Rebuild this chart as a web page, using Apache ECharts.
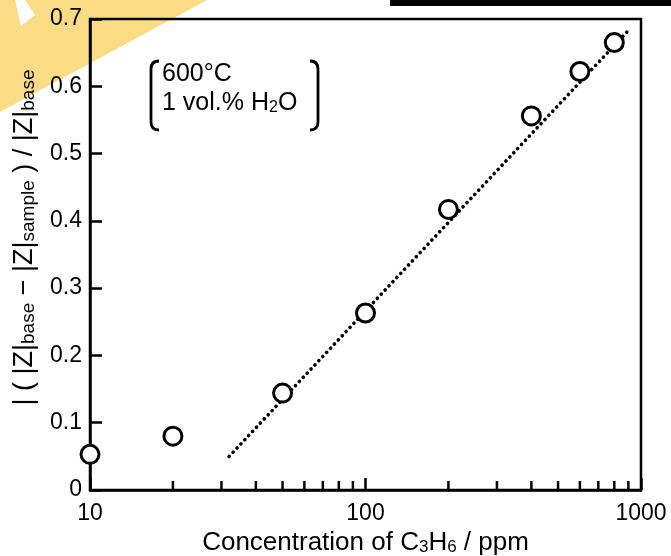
<!DOCTYPE html>
<html>
<head>
<meta charset="utf-8">
<script src="https://cdn.jsdelivr.net/npm/echarts@6/dist/echarts.min.js"></script>
<style>
  html, body { margin: 0; padding: 0; background: #fff; }
  #main { width: 671px; height: 556px; }
</style>
</head>
<body>
<div id="main"></div>
<script>
// measured points
const concPpm = [10, 20, 50, 100, 200, 400, 600, 800];
const response = [0.053, 0.080, 0.144, 0.263, 0.417, 0.556, 0.622, 0.665];

// dotted fit line (end points)
const fitX = [32, 900];
const fitY = [0.050, 0.683];

// minor ticks of the log axis
const minorTicks = [20, 30, 40, 50, 60, 70, 80, 90, 200, 300, 400, 500, 600, 700, 800, 900];

const yTicks = [0, 0.1, 0.2, 0.3, 0.4, 0.5, 0.6, 0.7];

const chart = echarts.init(document.getElementById('main'), null, { renderer: 'canvas' });

const FONT = 'Liberation Sans';

// bracket made of two rounded corners and a straight part
function bracket(x, dir) {
  const top = 61, bot = 130, r = 8;
  const st = { stroke: '#000', lineWidth: 2.8, fill: null };
  return [
    { type: 'bezierCurve', shape: { x1: x + dir * r, y1: top, cpx1: x, cpy1: top, x2: x, y2: top + r }, style: st },
    { type: 'line', shape: { x1: x, y1: top + r, x2: x, y2: bot - r }, style: st },
    { type: 'bezierCurve', shape: { x1: x, y1: bot - r, cpx1: x, cpy1: bot, x2: x + dir * r, y2: bot }, style: st }
  ];
}

const option = {
  backgroundColor: '#fff',
  animation: false,
  textStyle: { fontFamily: FONT, color: '#000' },
  grid: {
    left: 90,
    right: 30,
    top: 19,
    bottom: 66,
    outerBoundsMode: 'none',
    containLabel: false,
    show: true,
    borderColor: '#000',
    borderWidth: 2.5
  },
  xAxis: {
    type: 'log',
    logBase: 10,
    min: 10,
    max: 1000,
    name: '{b|Concentration of C}{s|3}{b|H}{s|6}{b| / ppm}',
    nameLocation: 'middle',
    nameGap: 35,
    nameTextStyle: {
      rich: {
        b: { fontSize: 26, fontFamily: FONT, color: '#000', lineHeight: 30, verticalAlign: 'bottom' },
        s: { fontSize: 17, fontFamily: FONT, color: '#000', lineHeight: 21, verticalAlign: 'bottom' }
      }
    },
    axisLine: { lineStyle: { color: '#000', width: 2.5 } },
    axisTick: { inside: true, length: 12, lineStyle: { color: '#000', width: 2.5 } },
    axisLabel: {
      fontSize: 23,
      color: '#000',
      margin: 12,
      formatter: function (v) { return String(Math.round(v)); }
    },
    splitLine: { show: false }
  },
  yAxis: {
    type: 'value',
    min: 0,
    max: 0.7,
    interval: 0.1,
    name: '{b|| ( |Z|}{s|base}{b| − |Z|}{s|sample}{b| ) / |Z|}{s|base}',
    nameLocation: 'middle',
    nameRotate: 90,
    nameGap: 52,
    nameTextStyle: {
      padding: [0, 0, 0, 34],
      rich: {
        b: { fontSize: 27, fontFamily: FONT, color: '#000', lineHeight: 31, verticalAlign: 'bottom' },
        s: { fontSize: 19, fontFamily: FONT, color: '#000', lineHeight: 23, verticalAlign: 'bottom' }
      }
    },
    axisLine: { lineStyle: { color: '#000', width: 2.5 } },
    axisTick: { inside: true, length: 12, lineStyle: { color: '#000', width: 2.5 } },
    axisLabel: {
      fontSize: 23,
      color: '#000',
      margin: 8,
      formatter: function (v) {
        const t = yTicks.find(function (k) { return Math.abs(k - v) < 1e-6; });
        return t === 0 ? '0' : (t !== undefined ? t.toFixed(1) : '');
      }
    },
    splitLine: { show: false }
  },
  graphic: [
    // yellow corner stripe
    {
      type: 'polygon',
      z: -10,
      shape: { points: [[0, 0], [207, 0], [0, 112]] },
      style: { fill: '#FADC86' }
    },
    {
      type: 'polygon',
      z: -9,
      shape: { points: [[15, 0], [25, 0], [35, 15], [21, 26]] },
      style: { fill: '#fff' }
    },
    // black bar at top right
    {
      type: 'rect',
      z: -9,
      shape: { x: 390, y: 0, width: 281, height: 6 },
      style: { fill: '#000' }
    }
  ].concat(bracket(151, 1), bracket(318, -1), [
    {
      type: 'text',
      left: 162,
      top: 62,
      style: {
        text: '600°C',
        font: '25px "Liberation Sans"',
        fill: '#000'
      }
    },
    {
      type: 'text',
      left: 162,
      top: 91,
      style: {
        text: '{b|1 vol.% H}{s|2}{b|O}',
        fill: '#000',
        rich: {
          b: { fontSize: 25, fontFamily: FONT, lineHeight: 28, verticalAlign: 'bottom' },
          s: { fontSize: 16, fontFamily: FONT, lineHeight: 20, verticalAlign: 'bottom' }
        }
      }
    }
  ]),
  series: [
    {
      name: 'fit',
      type: 'line',
      data: fitX.map(function (x, i) { return [x, fitY[i]]; }),
      symbol: 'none',
      lineStyle: { color: '#000', width: 3.6, type: [0.1, 5.6], cap: 'round' },
      z: 2
    },
    {
      name: 'minor ticks',
      type: 'custom',
      data: minorTicks.map(function (v) { return [v, 0]; }),
      renderItem: function (params, api) {
        const p = api.coord([api.value(0), 0]);
        return {
          type: 'line',
          shape: { x1: p[0], y1: p[1], x2: p[0], y2: p[1] - 9 },
          style: { stroke: '#000', lineWidth: 2.5 }
        };
      },
      z: 3
    },
    {
      name: 'data',
      type: 'scatter',
      data: concPpm.map(function (x, i) { return [x, response[i]]; }),
      symbol: 'circle',
      symbolSize: 18,
      clip: false,
      itemStyle: { color: '#fff', borderColor: '#000', borderWidth: 3, opacity: 1 },
      z: 5
    }
  ]
};

chart.setOption(option);
</script>
</body>
</html>
